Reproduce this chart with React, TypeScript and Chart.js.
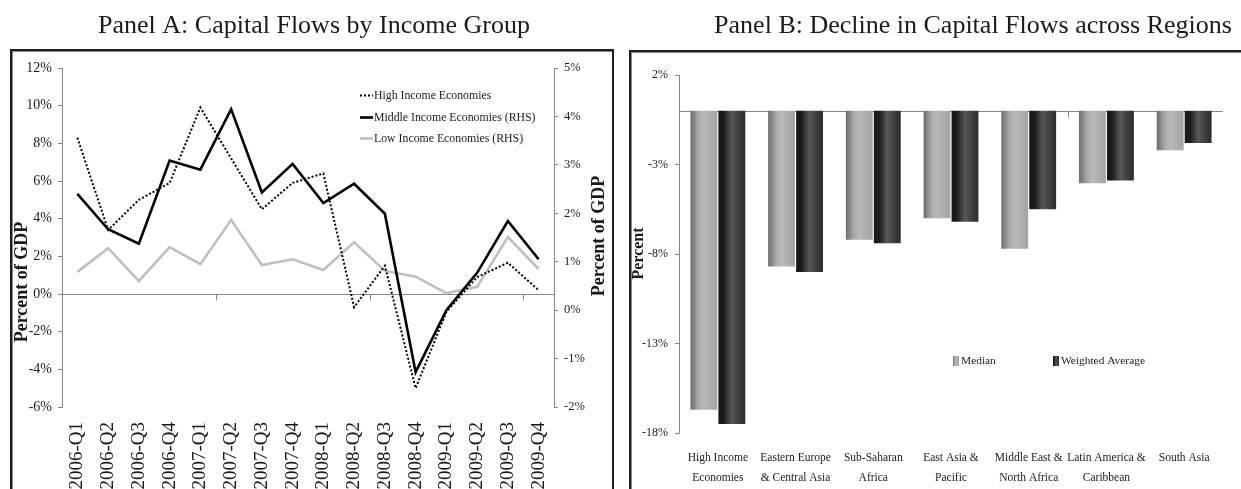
import React, { useEffect, useRef } from "react";
import { Chart, registerables } from "chart.js";

Chart.register(...registerables);

// ---------------- Data: Panel A ----------------
const quarterLabels = [
  "2006-Q1", "2006-Q2", "2006-Q3", "2006-Q4",
  "2007-Q1", "2007-Q2", "2007-Q3", "2007-Q4",
  "2008-Q1", "2008-Q2", "2008-Q3", "2008-Q4",
  "2009-Q1", "2009-Q2", "2009-Q3", "2009-Q4",
];
const highIncomeFlows = [8.3, 3.4, 5.0, 5.9, 9.9, 7.2, 4.5, 5.9, 6.4, -0.7, 1.5, -5.0, -0.95, 0.9, 1.66, 0.2];
const middleIncomeFlows = [2.4, 1.67, 1.37, 3.09, 2.9, 4.15, 2.43, 3.02, 2.21, 2.61, 1.99, -1.28, 0.0, 0.77, 1.84, 1.05];
const lowIncomeFlows = [0.79, 1.28, 0.6, 1.3, 0.95, 1.86, 0.93, 1.05, 0.83, 1.4, 0.81, 0.69, 0.35, 0.48, 1.51, 0.85];
const panelASeriesNames = ["High Income Economies", "Middle Income Economies (RHS)", "Low Income Economies (RHS)"];
const panelATitle = "Panel A: Capital Flows by Income Group";
const panelAAxisTitle = "Percent of GDP";
const leftAxisMin = -6, leftAxisMax = 12, leftAxisStep = 2;
const rightAxisMin = -2, rightAxisMax = 5, rightAxisStep = 1;

// ---------------- Data: Panel B ----------------
const regionLabels = [
  ["High Income", "Economies"],
  ["Eastern Europe", "& Central Asia"],
  ["Sub-Saharan", "Africa"],
  ["East Asia &", "Pacific"],
  ["Middle East &", "North Africa"],
  ["Latin America &", "Caribbean"],
  ["South Asia"],
];
const medianDecline = [-16.7, -8.7, -7.2, -6.0, -7.7, -4.05, -2.2];
const weightedDecline = [-17.5, -9.0, -7.4, -6.2, -5.5, -3.9, -1.8];
const panelBSeriesNames = ["Median", "Weighted Average"];
const panelBTitle = "Panel B: Decline in Capital Flows across Regions";
const panelBAxisTitle = "Percent";
const barAxisMin = -18, barAxisMax = 2, barAxisStep = 5;

// ---------------- Styles ----------------
const SERIF = '"Liberation Serif", "Times New Roman", serif';
const AXIS_GREY = "#868686";
const TEXT = "#1a1a1a";
const medianStops: [number, string][] = [[0, "#6c6c6c"], [0.3, "#a9a9a9"], [0.5, "#b9b9b9"], [1, "#a3a3a3"]];
const weightedStops: [number, string][] = [[0, "#161616"], [0.2, "#1c1c1c"], [0.5, "#585858"], [0.8, "#3a3a3a"], [1, "#2c2c2c"]];
const barStops = [medianStops, weightedStops];

function drawText(ctx: CanvasRenderingContext2D, text: string, x: number, y: number, font: string, angle = 0, align: CanvasTextAlign = "center", baseline: CanvasTextBaseline = "middle") {
  ctx.save();
  ctx.translate(x, y);
  ctx.rotate(angle);
  ctx.font = font;
  ctx.fillStyle = TEXT;
  ctx.textAlign = align;
  ctx.textBaseline = baseline;
  ctx.fillText(text, 0, 0);
  ctx.restore();
}

function drawZeroLine(chart: any, yId: string) {
  const { ctx, chartArea } = chart;
  const xs = chart.scales.x;
  const y0 = Math.round(chart.scales[yId].getPixelForValue(0)) + 0.5;
  ctx.save();
  ctx.strokeStyle = AXIS_GREY;
  ctx.lineWidth = 1;
  ctx.beginPath();
  ctx.moveTo(chartArea.left, y0);
  ctx.lineTo(chartArea.right, y0);
  const n = xs.getLabels().length;
  for (let b = 5; b < n; b += 5) {
    const px = Math.round((xs.getPixelForValue(b - 1) + xs.getPixelForValue(b)) / 2) + 0.5;
    ctx.moveTo(px, y0);
    ctx.lineTo(px, y0 + 6);
  }
  ctx.stroke();
  ctx.restore();
}

function yAxis(position: string, min: number, max: number, step: number, size: number, pad: number, width: number) {
  return {
    type: "linear",
    position,
    min,
    max,
    ticks: {
      stepSize: step,
      callback: (v: number) => `${v}%`,
      font: { family: SERIF, size },
      color: TEXT,
      padding: pad,
    },
    grid: { drawOnChartArea: false, drawTicks: true, tickLength: 4, color: AXIS_GREY, lineWidth: 1 },
    border: { display: true, color: AXIS_GREY, width: 1 },
    afterFit: (s: any) => {
      s.width = width;
      s.paddingTop = 0;
      s.paddingBottom = 0;
    },
  };
}

const panelADecor = {
  id: "panelADecor",
  beforeDatasetsDraw(chart: any) {
    drawZeroLine(chart, "y");
  },
  afterDraw(chart: any) {
    const ctx = chart.ctx as CanvasRenderingContext2D;
    drawText(ctx, panelATitle, 314, 33, `26px ${SERIF}`, 0, "center", "alphabetic");
    drawText(ctx, panelAAxisTitle, 22.5, 282, `bold 18px ${SERIF}`, -Math.PI / 2);
    drawText(ctx, panelAAxisTitle, 599, 236, `bold 18px ${SERIF}`, -Math.PI / 2);
    // legend
    chart.data.datasets.forEach((ds: any, i: number) => {
      const y = Math.round(95 + i * 21.7) + 0.5;
      ctx.save();
      ctx.strokeStyle = ds.borderColor;
      ctx.lineWidth = ds.borderWidth;
      ctx.setLineDash(ds.borderDash || []);
      ctx.beginPath();
      ctx.moveTo(360, y);
      ctx.lineTo(373, y);
      ctx.stroke();
      ctx.restore();
      drawText(ctx, ds.label, 374, y, `11.8px ${SERIF}`, 0, "left", "middle");
    });
  },
};

const panelBDecor = {
  id: "panelBDecor",
  beforeDatasetsDraw(chart: any) {
    drawZeroLine(chart, "y");
    const ctx = chart.ctx as CanvasRenderingContext2D;
    chart.data.datasets.forEach((_ds: any, di: number) => {
      const meta = chart.getDatasetMeta(di);
      meta.data.forEach((el: any) => {
        const { x, width } = el.getProps(["x", "width"], true);
        const g = ctx.createLinearGradient(x - width / 2, 0, x + width / 2, 0);
        barStops[di].forEach(([o, c]) => g.addColorStop(o, c));
        el.options = { ...el.options, backgroundColor: g };
      });
    });
  },
  afterDraw(chart: any) {
    const ctx = chart.ctx as CanvasRenderingContext2D;
    drawText(ctx, panelBTitle, 358, 33, `26px ${SERIF}`, 0, "center", "alphabetic");
    drawText(ctx, panelBAxisTitle, 23.5, 253.5, `bold 16px ${SERIF}`, -Math.PI / 2);
    const legendX = [338, 438];
    chart.data.datasets.forEach((ds: any, i: number) => {
      const lx = legendX[i];
      const ly = 361;
      const g = ctx.createLinearGradient(lx, 0, lx + 6, 0);
      barStops[i].forEach(([o, c]) => g.addColorStop(o, c));
      ctx.save();
      ctx.fillStyle = g;
      ctx.fillRect(lx, ly - 5, 6, 10);
      ctx.restore();
      drawText(ctx, ds.label, lx + 8, ly, `11.4px ${SERIF}`, 0, "left", "middle");
    });
  },
};

export default function App() {
  const refA = useRef<HTMLCanvasElement>(null);
  const refB = useRef<HTMLCanvasElement>(null);

  useEffect(() => {
    const chartA = new Chart(refA.current as HTMLCanvasElement, {
      type: "line",
      data: {
        labels: quarterLabels,
        datasets: [
          { label: panelASeriesNames[0], data: highIncomeFlows, yAxisID: "y", borderColor: "#000000", borderWidth: 2, borderDash: [2, 2], pointRadius: 0, tension: 0, fill: false, borderJoinStyle: "miter" },
          { label: panelASeriesNames[1], data: middleIncomeFlows, yAxisID: "y1", borderColor: "#000000", borderWidth: 2.6, pointRadius: 0, tension: 0, fill: false, borderJoinStyle: "miter" },
          { label: panelASeriesNames[2], data: lowIncomeFlows, yAxisID: "y1", borderColor: "#bfbfbf", borderWidth: 2.6, pointRadius: 0, tension: 0, fill: false, borderJoinStyle: "miter" },
        ],
      } as any,
      options: {
        responsive: false,
        animation: false,
        devicePixelRatio: 1,
        events: [],
        layout: { padding: { top: 68, left: 0, right: 0, bottom: 0 } },
        plugins: { legend: { display: false }, tooltip: { enabled: false }, title: { display: false } },
        scales: {
          x: {
            type: "category",
            offset: true,
            grid: { display: false, drawTicks: false },
            border: { display: false },
            ticks: { autoSkip: false, minRotation: 90, maxRotation: 90, padding: 15, font: { family: SERIF, size: 19 }, color: TEXT },
            afterFit: (s: any) => {
              s.height = 82;
              s.paddingLeft = 0;
              s.paddingRight = 0;
            },
          },
          y: yAxis("left", leftAxisMin, leftAxisMax, leftAxisStep, 14, 6, 62),
          y1: yAxis("right", rightAxisMin, rightAxisMax, rightAxisStep, 12.5, 6, 60),
        } as any,
      },
      plugins: [panelADecor],
    });

    const chartB = new Chart(refB.current as HTMLCanvasElement, {
      type: "bar",
      data: {
        labels: regionLabels,
        datasets: [
          { label: panelBSeriesNames[0], data: medianDecline, backgroundColor: () => "#a8a8a8", borderWidth: 0, barPercentage: 0.96, categoryPercentage: 0.72 },
          { label: panelBSeriesNames[1], data: weightedDecline, backgroundColor: () => "#333333", borderWidth: 0, barPercentage: 0.96, categoryPercentage: 0.72 },
        ],
      } as any,
      options: {
        responsive: false,
        animation: false,
        devicePixelRatio: 1,
        events: [],
        layout: { padding: { top: 75, left: 0, right: 18, bottom: 0 } },
        plugins: { legend: { display: false }, tooltip: { enabled: false }, title: { display: false } },
        scales: {
          x: {
            type: "category",
            offset: true,
            grid: { display: false, drawTicks: false },
            border: { display: false },
            ticks: { autoSkip: false, minRotation: 0, maxRotation: 0, padding: 15, font: { family: SERIF, size: 11.5, lineHeight: "20px" }, color: TEXT },
            afterFit: (s: any) => {
              s.height = 56;
              s.paddingLeft = 0;
              s.paddingRight = 0;
            },
          },
          y: yAxis("left", barAxisMin, barAxisMax, barAxisStep, 12, 7, 64),
        } as any,
      },
      plugins: [panelBDecor],
    });

    return () => {
      chartA.destroy();
      chartB.destroy();
    };
  }, []);

  const frame = (left: number, top: number, width: number): React.CSSProperties => ({
    position: "absolute",
    left,
    top,
    width,
    height: 480,
    border: "2px solid #1e1e1e",
    boxShadow: "inset 1px 1px 0 #8c8c8c",
    boxSizing: "border-box",
  });

  return (
    <div style={{ position: "absolute", left: 0, top: 0, width: 1241, height: 489, overflow: "hidden", background: "#ffffff" }}>
      <div style={frame(10, 49, 604)} />
      <div style={frame(629, 50, 720)} />
      <canvas ref={refA} width={614} height={489} style={{ position: "absolute", left: 0, top: 0, width: 614, height: 489 }} />
      <canvas ref={refB} width={626} height={489} style={{ position: "absolute", left: 615, top: 0, width: 626, height: 489 }} />
    </div>
  );
}
